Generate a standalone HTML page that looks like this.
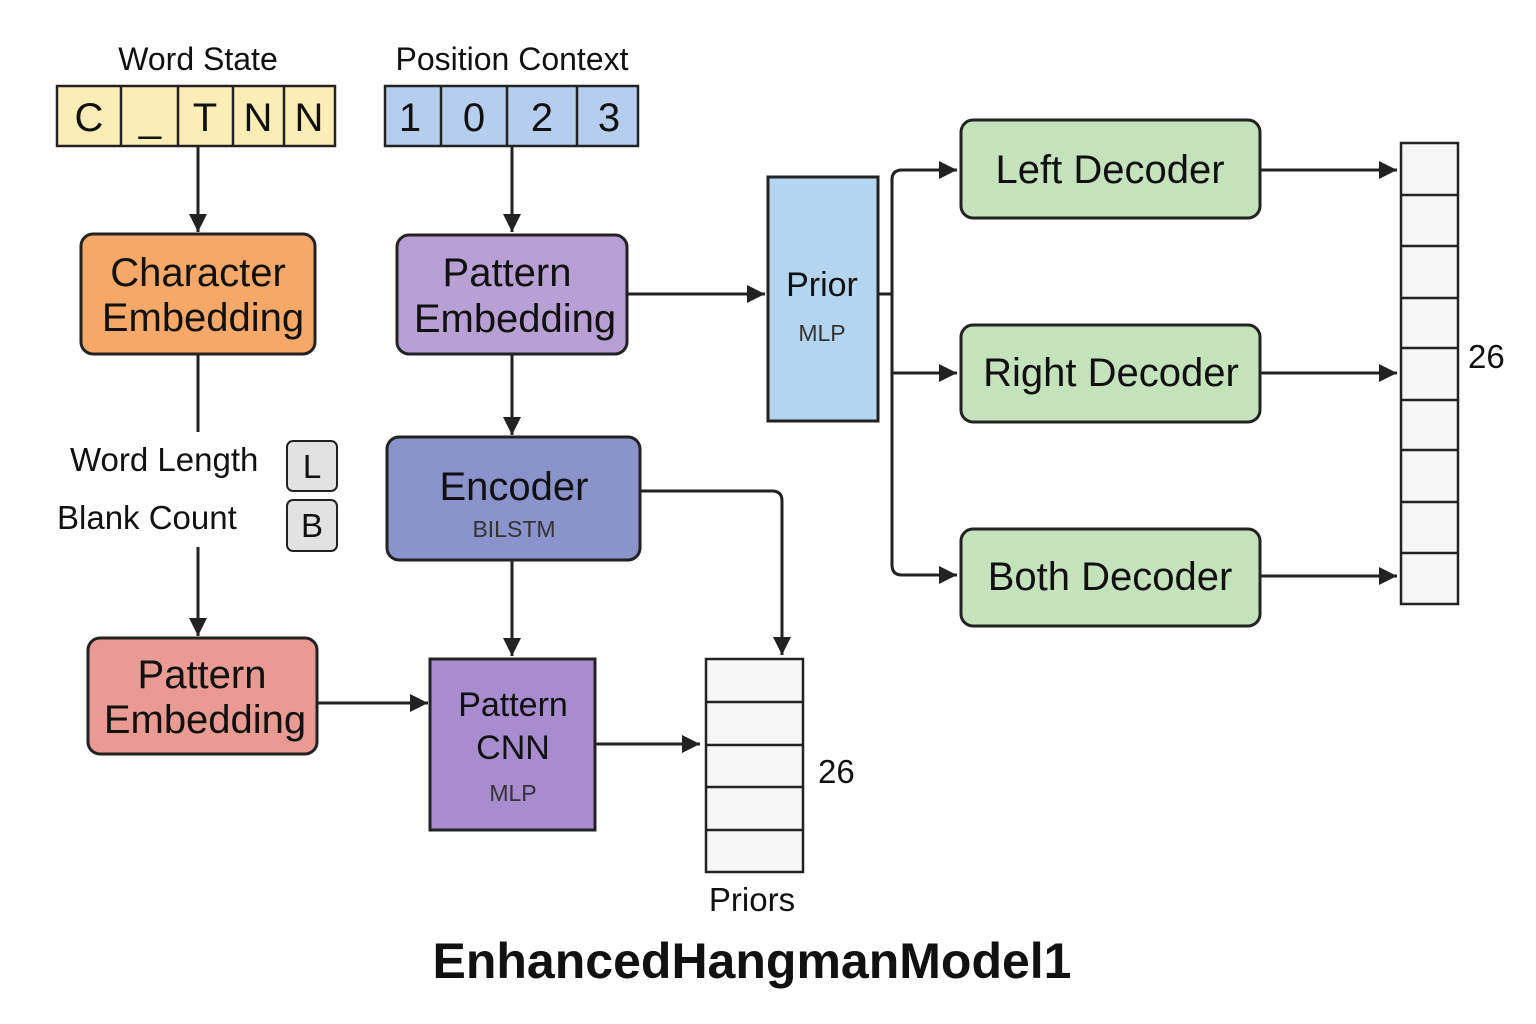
<!DOCTYPE html>
<html><head><style>body{margin:0;background:#fff}svg{display:block}text{font-family:"Liberation Sans",sans-serif;fill:#111}</style></head><body>
<svg width="1536" height="1024" viewBox="0 0 1536 1024">
<defs>
<marker id="m" viewBox="0 0 10 10" refX="10" refY="5" markerWidth="18" markerHeight="18" orient="auto" markerUnits="userSpaceOnUse"><path d="M0,0 L10,5 L0,10 Z" fill="#222"/></marker></defs>
<g stroke="#222" stroke-width="3" fill="none">
<line x1="198" y1="146" x2="198" y2="232" marker-end="url(#m)"/>
<line x1="512" y1="146" x2="512" y2="232" marker-end="url(#m)"/>
<line x1="627" y1="294" x2="765" y2="294" marker-end="url(#m)"/>
<line x1="198" y1="354" x2="198" y2="432"/>
<line x1="198" y1="547" x2="198" y2="636" marker-end="url(#m)"/>
<line x1="512" y1="354" x2="512" y2="435" marker-end="url(#m)"/>
<line x1="512" y1="560" x2="512" y2="656" marker-end="url(#m)"/>
<line x1="317" y1="703" x2="428" y2="703" marker-end="url(#m)"/>
<line x1="595" y1="744" x2="700" y2="744" marker-end="url(#m)"/>
<path d="M640,491 H772 Q782,491 782,501 V655" marker-end="url(#m)"/>
<path d="M878,294 H892"/>
<path d="M940,170 H902 Q892,170 892,180 V565 Q892,575 902,575 H957" marker-end="url(#m)"/>
<line x1="900" y1="170" x2="957" y2="170" marker-end="url(#m)"/>
<line x1="892" y1="373" x2="957" y2="373" marker-end="url(#m)"/>
<line x1="1260" y1="170" x2="1397" y2="170" marker-end="url(#m)"/>
<line x1="1260" y1="373" x2="1397" y2="373" marker-end="url(#m)"/>
<line x1="1260" y1="576" x2="1397" y2="576" marker-end="url(#m)"/>
</g>
<g stroke="#222" stroke-width="2.5">
<rect x="57" y="86" width="278" height="60" fill="#fcedb6"/>
<line x1="121" y1="86" x2="121" y2="146"/><line x1="178" y1="86" x2="178" y2="146"/><line x1="233" y1="86" x2="233" y2="146"/><line x1="284" y1="86" x2="284" y2="146"/>
<rect x="385" y="86" width="253" height="60" fill="#b7cdee"/>
<line x1="441" y1="86" x2="441" y2="146"/><line x1="507" y1="86" x2="507" y2="146"/><line x1="577" y1="86" x2="577" y2="146"/>
</g>
<g stroke="#222" stroke-width="3">
<rect x="81" y="234" width="234" height="120" rx="12" fill="#f5a868"/>
<rect x="397" y="235" width="230" height="119" rx="12" fill="#b89fd4"/>
<rect x="768" y="177" width="110" height="244" fill="#b3d5f0"/>
<rect x="961" y="120" width="299" height="98" rx="12" fill="#c4e3bc"/>
<rect x="961" y="325" width="299" height="97" rx="12" fill="#c4e3bc"/>
<rect x="961" y="529" width="299" height="97" rx="12" fill="#c4e3bc"/>
<rect x="387" y="437" width="253" height="123" rx="12" fill="#8a93cc"/>
<rect x="88" y="638" width="229" height="116" rx="12" fill="#e99a92"/>
<rect x="430" y="659" width="165" height="171" fill="#a98ccf"/>
<rect x="287" y="441" width="50" height="50" rx="6" fill="#e2e2e2" stroke-width="2"/>
<rect x="287" y="500" width="50" height="51" rx="6" fill="#e2e2e2" stroke-width="2"/>
</g>
<g stroke="#222" stroke-width="2.5" fill="#f6f6f6">
<rect x="1401" y="143" width="57" height="461"/>
<path d="M1401,195H1458M1401,246H1458M1401,298H1458M1401,348H1458M1401,400H1458M1401,450H1458M1401,502H1458M1401,553H1458"/>
<rect x="706" y="659" width="97" height="213"/>
<path d="M706,702H803M706,745H803M706,787H803M706,830H803"/>
</g>
<g font-size="32" text-anchor="middle">
<text x="198" y="70">Word State</text><text x="512" y="70">Position Context</text>
</g>
<g font-size="40" text-anchor="middle">
<text x="89" y="131">C</text><text x="150" y="131">_</text><text x="205" y="131">T</text><text x="258" y="131">N</text><text x="309" y="131">N</text>
<text x="410" y="131">1</text><text x="474" y="131">0</text><text x="542" y="131">2</text><text x="609" y="131">3</text>
</g>
<g font-size="40" text-anchor="middle">
<text x="198" y="286">Character</text><text x="203" y="331">Embedding</text>
<text x="507" y="286">Pattern</text><text x="515" y="332">Embedding</text>
<text x="202" y="688">Pattern</text><text x="205" y="733">Embedding</text>
<text x="514" y="500">Encoder</text>
<text x="1110" y="183">Left Decoder</text><text x="1111" y="386">Right Decoder</text><text x="1110" y="590">Both Decoder</text>
</g>
<g font-size="34" text-anchor="middle">
<text x="822" y="296">Prior</text>
<text x="513" y="716">Pattern</text><text x="513" y="759">CNN</text>
</g>
<g font-size="23" text-anchor="middle">
<text x="822" y="341" style="fill:#333">MLP</text><text x="514" y="537" style="fill:#333">BILSTM</text><text x="513" y="801" style="fill:#333">MLP</text>
</g>
<g font-size="33">
<text x="70" y="471">Word Length</text><text x="57" y="529">Blank Count</text>
<text x="312" y="478" text-anchor="middle">L</text><text x="312" y="537" text-anchor="middle">B</text>
<text x="1468" y="368">26</text><text x="818" y="783">26</text>
<text x="752" y="911" text-anchor="middle">Priors</text>
</g>
<text x="752" y="978" font-size="50" font-weight="bold" text-anchor="middle">EnhancedHangmanModel1</text>
</svg>
</body></html>
